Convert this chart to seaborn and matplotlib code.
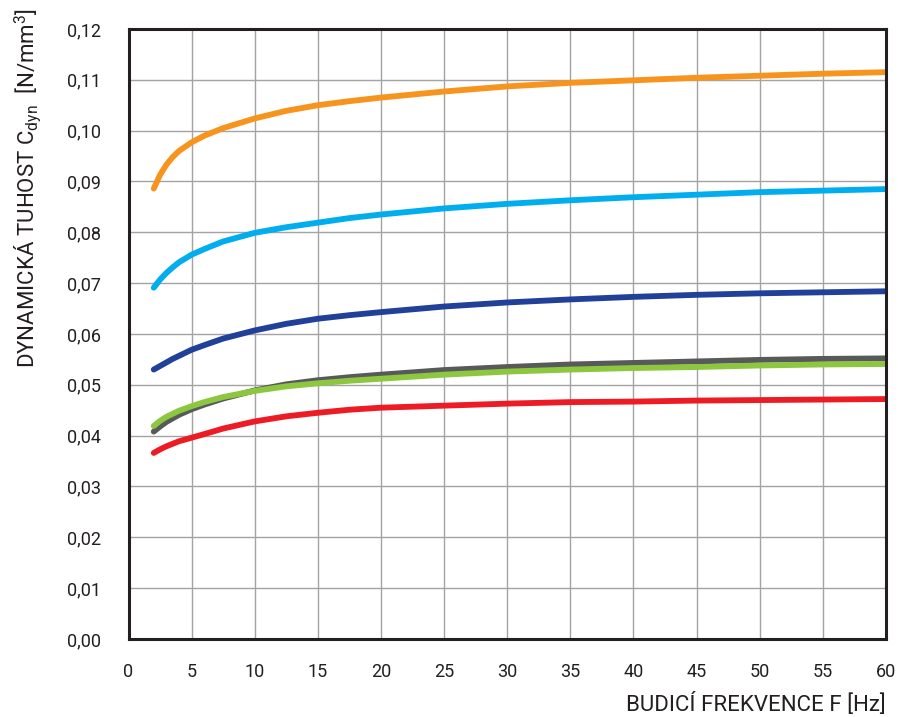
import numpy as np
import pandas as pd
import matplotlib.pyplot as plt
import seaborn as sns

# frequency points [Hz]
freq = [2, 2.5, 3, 3.5, 4, 5, 6, 7.5, 10, 12.5, 15, 17.5, 20,
        25, 30, 35, 40, 45, 50, 55, 60]

# dynamic stiffness curves [N/mm3]
orange = [0.0886, 0.0913, 0.0933, 0.0948, 0.0960, 0.0977, 0.0990, 0.1005,
          0.1024, 0.1039, 0.1050, 0.1058, 0.1065, 0.1077, 0.1087, 0.1094,
          0.1099, 0.1104, 0.1108, 0.1112, 0.1115]
cyan = [0.0691, 0.0707, 0.0720, 0.0731, 0.0741, 0.0756, 0.0767, 0.0782,
        0.0799, 0.0810, 0.0819, 0.0828, 0.0835, 0.0847, 0.0856, 0.0863,
        0.0869, 0.0874, 0.0879, 0.0882, 0.0885]
navy = [0.0530, 0.0537, 0.0544, 0.0551, 0.0557, 0.0569, 0.0578, 0.0591,
        0.0607, 0.0620, 0.0630, 0.0637, 0.0643, 0.0654, 0.0662, 0.0668,
        0.0673, 0.0677, 0.0680, 0.0682, 0.0684]
gray = [0.0408, 0.0418, 0.0427, 0.0434, 0.0441, 0.0452, 0.0461, 0.0473,
        0.0489, 0.0501, 0.0509, 0.0515, 0.0520, 0.0529, 0.0535, 0.0540,
        0.0543, 0.0546, 0.0549, 0.0551, 0.0552]
green = [0.0419, 0.0429, 0.0437, 0.0443, 0.0449, 0.0458, 0.0466, 0.0476,
         0.0488, 0.0497, 0.0503, 0.0508, 0.0512, 0.0520, 0.0526, 0.0530,
         0.0533, 0.0535, 0.0538, 0.0540, 0.0541]
red = [0.0366, 0.0373, 0.0379, 0.0384, 0.0389, 0.0396, 0.0403, 0.0414,
       0.0428, 0.0438, 0.0445, 0.0451, 0.0455, 0.0459, 0.0463, 0.0466,
       0.0467, 0.0469, 0.0470, 0.0471, 0.0472]

series = {"orange": orange, "cyan": cyan, "navy": navy,
          "gray": gray, "green": green, "red": red}
colors = {"orange": "#F7941D", "cyan": "#00AEEF", "navy": "#21409A",
          "gray": "#58595B", "green": "#8DC63F", "red": "#ED1C24"}

xticks = list(range(0, 61, 5))
yticks = [i / 100 for i in range(0, 13)]

df = pd.concat(
    [pd.DataFrame({"f": freq, "c": vals, "curve": name}) for name, vals in series.items()],
    ignore_index=True,
)

sns.set_style("white")
plt.rcParams["font.family"] = ["Roboto", "DejaVu Sans"]

fig = plt.figure(figsize=(8.98, 7.17), dpi=100)
ax = fig.add_axes([0.1431, 0.1088, 0.8435, 0.8508])

ax.grid(True, color="#a3a3a3", linewidth=1.0)
ax.set_axisbelow(True)

sns.lineplot(data=df, x="f", y="c", hue="curve", palette=colors,
             linewidth=4.2, legend=False, ax=ax, sort=False,
             solid_capstyle="round", solid_joinstyle="round")

ax.set_xlim(0, 60)
ax.set_ylim(0, 0.12)
ax.set_xticks(xticks)
ax.set_yticks(yticks)
ax.set_xticklabels([str(t) for t in xticks])
ax.set_yticklabels([f"{t:.2f}".replace(".", ",") for t in yticks])

for s in ax.spines.values():
    s.set_visible(True)
    s.set_color("#231f20")
    s.set_linewidth(2.2)

ax.tick_params(axis="both", direction="out", length=8, width=2,
               color="#231f20", labelsize=13, labelcolor="#231f20")
ax.tick_params(axis="y", pad=12)
ax.tick_params(axis="x", pad=9)

ax.set_xlabel("BUDICÍ FREKVENCE F [Hz]", loc="right", fontsize=16,
              color="#231f20")
ax.set_ylabel(r"DYNAMICKÁ TUHOST C$_{\mathregular{dyn}}$  [N/mm$^{\mathregular{3}}$]",
              loc="top", fontsize=16, color="#231f20")
ax.xaxis.set_label_coords(1.0, -0.088)
ax.yaxis.set_label_coords(-0.113, 1.034)

fig.savefig("out.png", dpi=100)
